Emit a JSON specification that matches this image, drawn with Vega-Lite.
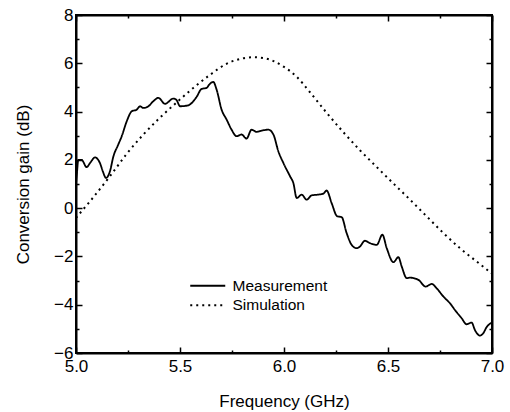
{
  "$schema": "https://vega.github.io/schema/vega-lite/v6.json",
  "width": 416,
  "height": 338,
  "autosize": "none",
  "padding": {"left": 76, "top": 15, "right": 18, "bottom": 59},
  "background": "white",
  "config": {
    "font": "Liberation Sans",
    "view": {"stroke": "black", "strokeWidth": 2},
    "axis": {
      "grid": false,
      "domainColor": "black",
      "domainWidth": 2,
      "tickColor": "black",
      "tickWidth": 1.5,
      "labelColor": "black",
      "labelFont": "Liberation Sans",
      "labelFontSize": 17,
      "titleFont": "Liberation Sans",
      "titleFontSize": 17,
      "titleFontWeight": "normal",
      "titleColor": "black"
    },
    "legend": {
      "labelFont": "Liberation Sans",
      "labelFontSize": 15.5,
      "labelColor": "black"
    }
  },
  "layer": [
    {
      "data": {"values": [
        {"f": 5.0, "g": 1.0, "series": "Measurement"},
        {"f": 5.005, "g": 1.5, "series": "Measurement"},
        {"f": 5.011, "g": 2.0, "series": "Measurement"},
        {"f": 5.027, "g": 2.0, "series": "Measurement"},
        {"f": 5.051, "g": 1.7, "series": "Measurement"},
        {"f": 5.07, "g": 1.9, "series": "Measurement"},
        {"f": 5.091, "g": 2.1, "series": "Measurement"},
        {"f": 5.115, "g": 1.87, "series": "Measurement"},
        {"f": 5.13, "g": 1.5, "series": "Measurement"},
        {"f": 5.144, "g": 1.25, "series": "Measurement"},
        {"f": 5.163, "g": 1.52, "series": "Measurement"},
        {"f": 5.18, "g": 2.15, "series": "Measurement"},
        {"f": 5.203, "g": 2.63, "series": "Measurement"},
        {"f": 5.22, "g": 2.98, "series": "Measurement"},
        {"f": 5.244, "g": 3.6, "series": "Measurement"},
        {"f": 5.268, "g": 4.01, "series": "Measurement"},
        {"f": 5.292, "g": 4.08, "series": "Measurement"},
        {"f": 5.308, "g": 4.22, "series": "Measurement"},
        {"f": 5.324, "g": 4.15, "series": "Measurement"},
        {"f": 5.348, "g": 4.22, "series": "Measurement"},
        {"f": 5.372, "g": 4.43, "series": "Measurement"},
        {"f": 5.396, "g": 4.57, "series": "Measurement"},
        {"f": 5.428, "g": 4.32, "series": "Measurement"},
        {"f": 5.468, "g": 4.54, "series": "Measurement"},
        {"f": 5.484, "g": 4.47, "series": "Measurement"},
        {"f": 5.5, "g": 4.22, "series": "Measurement"},
        {"f": 5.54, "g": 4.26, "series": "Measurement"},
        {"f": 5.564, "g": 4.43, "series": "Measurement"},
        {"f": 5.58, "g": 4.61, "series": "Measurement"},
        {"f": 5.604, "g": 4.94, "series": "Measurement"},
        {"f": 5.628, "g": 4.98, "series": "Measurement"},
        {"f": 5.641, "g": 5.12, "series": "Measurement"},
        {"f": 5.66, "g": 5.23, "series": "Measurement"},
        {"f": 5.676, "g": 4.91, "series": "Measurement"},
        {"f": 5.7, "g": 4.08, "series": "Measurement"},
        {"f": 5.724, "g": 3.67, "series": "Measurement"},
        {"f": 5.748, "g": 3.25, "series": "Measurement"},
        {"f": 5.772, "g": 2.98, "series": "Measurement"},
        {"f": 5.796, "g": 3.05, "series": "Measurement"},
        {"f": 5.82, "g": 2.88, "series": "Measurement"},
        {"f": 5.844, "g": 3.25, "series": "Measurement"},
        {"f": 5.868, "g": 3.16, "series": "Measurement"},
        {"f": 5.893, "g": 3.21, "series": "Measurement"},
        {"f": 5.925, "g": 3.25, "series": "Measurement"},
        {"f": 5.949, "g": 3.05, "series": "Measurement"},
        {"f": 5.973, "g": 2.35, "series": "Measurement"},
        {"f": 5.997, "g": 1.87, "series": "Measurement"},
        {"f": 6.029, "g": 1.32, "series": "Measurement"},
        {"f": 6.045, "g": 1.04, "series": "Measurement"},
        {"f": 6.061, "g": 0.42, "series": "Measurement"},
        {"f": 6.085, "g": 0.56, "series": "Measurement"},
        {"f": 6.109, "g": 0.35, "series": "Measurement"},
        {"f": 6.133, "g": 0.53, "series": "Measurement"},
        {"f": 6.165, "g": 0.56, "series": "Measurement"},
        {"f": 6.189, "g": 0.6, "series": "Measurement"},
        {"f": 6.205, "g": 0.73, "series": "Measurement"},
        {"f": 6.229, "g": 0.21, "series": "Measurement"},
        {"f": 6.256, "g": -0.34, "series": "Measurement"},
        {"f": 6.277, "g": -0.37, "series": "Measurement"},
        {"f": 6.301, "g": -1.03, "series": "Measurement"},
        {"f": 6.325, "g": -1.52, "series": "Measurement"},
        {"f": 6.349, "g": -1.66, "series": "Measurement"},
        {"f": 6.365, "g": -1.59, "series": "Measurement"},
        {"f": 6.389, "g": -1.35, "series": "Measurement"},
        {"f": 6.413, "g": -1.45, "series": "Measurement"},
        {"f": 6.446, "g": -1.52, "series": "Measurement"},
        {"f": 6.473, "g": -1.1, "series": "Measurement"},
        {"f": 6.494, "g": -1.66, "series": "Measurement"},
        {"f": 6.526, "g": -2.24, "series": "Measurement"},
        {"f": 6.55, "g": -2.03, "series": "Measurement"},
        {"f": 6.566, "g": -2.42, "series": "Measurement"},
        {"f": 6.59, "g": -2.9, "series": "Measurement"},
        {"f": 6.606, "g": -2.88, "series": "Measurement"},
        {"f": 6.646, "g": -2.97, "series": "Measurement"},
        {"f": 6.681, "g": -3.25, "series": "Measurement"},
        {"f": 6.71, "g": -3.14, "series": "Measurement"},
        {"f": 6.734, "g": -3.32, "series": "Measurement"},
        {"f": 6.766, "g": -3.66, "series": "Measurement"},
        {"f": 6.798, "g": -3.94, "series": "Measurement"},
        {"f": 6.822, "g": -4.22, "series": "Measurement"},
        {"f": 6.854, "g": -4.56, "series": "Measurement"},
        {"f": 6.878, "g": -4.81, "series": "Measurement"},
        {"f": 6.902, "g": -4.74, "series": "Measurement"},
        {"f": 6.918, "g": -5.05, "series": "Measurement"},
        {"f": 6.942, "g": -5.28, "series": "Measurement"},
        {"f": 6.958, "g": -5.18, "series": "Measurement"},
        {"f": 6.974, "g": -4.93, "series": "Measurement"},
        {"f": 7.0, "g": -4.74, "series": "Measurement"}
      ]},
      "mark": {"type": "line", "color": "black", "strokeWidth": 1.8, "interpolate": "monotone", "clip": true},
      "encoding": {
        "x": {
          "field": "f", "type": "quantitative",
          "scale": {"domain": [5, 7], "nice": false, "zero": false},
          "axis": {
            "orient": "bottom",
            "title": "Frequency (GHz)",
            "titlePadding": 16,
            "values": [5, 5.25, 5.5, 5.75, 6, 6.25, 6.5, 6.75, 7],
            "labelExpr": "datum.value*2 == round(datum.value*2) ? format(datum.value, '.1f') : ''",
            "tickSize": {"condition": {"test": "datum.value*2 == round(datum.value*2)", "value": -6}, "value": -3},
            "labelPadding": 11,
            "labelFlush": false,
            "labelOverlap": false
          }
        },
        "y": {
          "field": "g", "type": "quantitative",
          "scale": {"domain": [-6, 8], "nice": false, "zero": false},
          "axis": {
            "orient": "left",
            "title": "Conversion gain (dB)",
            "titlePadding": 21,
            "values": [-6, -5, -4, -3, -2, -1, 0, 1, 2, 3, 4, 5, 6, 7, 8],
            "labelExpr": "datum.value % 2 == 0 ? format(datum.value, 'd') : ''",
            "tickSize": {"condition": {"test": "datum.value % 2 == 0", "value": -6}, "value": -3},
            "labelPadding": 9,
            "labelFlush": false,
            "labelOverlap": false
          }
        },
        "strokeDash": {
          "field": "series", "type": "nominal",
          "scale": {"domain": ["Measurement", "Simulation"], "range": [[1, 0], [2, 4]]},
          "legend": {
            "orient": "none",
            "legendX": 124,
            "legendY": 263,
            "title": null,
            "symbolType": "M-4,0H4",
            "symbolStrokeColor": "black",
            "symbolStrokeWidth": 1.8,
            "symbolSize": 76.6,
            "labelOffset": 17,
            "rowPadding": 2.5,
            "padding": 0
          }
        }
      }
    },
    {
      "data": {"values": [
        {"f": 5.0, "g": -0.4, "series": "Simulation"},
        {"f": 5.067, "g": 0.28, "series": "Simulation"},
        {"f": 5.163, "g": 1.32, "series": "Simulation"},
        {"f": 5.244, "g": 2.25, "series": "Simulation"},
        {"f": 5.324, "g": 3.05, "series": "Simulation"},
        {"f": 5.404, "g": 3.75, "series": "Simulation"},
        {"f": 5.484, "g": 4.38, "series": "Simulation"},
        {"f": 5.564, "g": 4.98, "series": "Simulation"},
        {"f": 5.644, "g": 5.52, "series": "Simulation"},
        {"f": 5.724, "g": 5.98, "series": "Simulation"},
        {"f": 5.8, "g": 6.2, "series": "Simulation"},
        {"f": 5.85, "g": 6.25, "series": "Simulation"},
        {"f": 5.9, "g": 6.22, "series": "Simulation"},
        {"f": 6.0, "g": 5.85, "series": "Simulation"},
        {"f": 6.06, "g": 5.45, "series": "Simulation"},
        {"f": 6.125, "g": 4.8, "series": "Simulation"},
        {"f": 6.205, "g": 3.95, "series": "Simulation"},
        {"f": 6.285, "g": 3.15, "series": "Simulation"},
        {"f": 6.365, "g": 2.4, "series": "Simulation"},
        {"f": 6.446, "g": 1.7, "series": "Simulation"},
        {"f": 6.526, "g": 1.02, "series": "Simulation"},
        {"f": 6.606, "g": 0.35, "series": "Simulation"},
        {"f": 6.686, "g": -0.34, "series": "Simulation"},
        {"f": 6.766, "g": -1.03, "series": "Simulation"},
        {"f": 6.846, "g": -1.66, "series": "Simulation"},
        {"f": 6.926, "g": -2.21, "series": "Simulation"},
        {"f": 7.0, "g": -2.72, "series": "Simulation"}
      ]},
      "mark": {"type": "line", "color": "black", "strokeWidth": 2, "interpolate": "monotone", "clip": true},
      "encoding": {
        "x": {
          "field": "f", "type": "quantitative",
          "axis": {
            "orient": "top",
            "title": null,
            "values": [5, 5.25, 5.5, 5.75, 6, 6.25, 6.5, 6.75, 7],
            "labels": false,
            "tickSize": {"condition": {"test": "datum.value*2 == round(datum.value*2)", "value": -6}, "value": -3}
          }
        },
        "y": {
          "field": "g", "type": "quantitative",
          "axis": {
            "orient": "right",
            "title": null,
            "values": [-6, -5, -4, -3, -2, -1, 0, 1, 2, 3, 4, 5, 6, 7, 8],
            "labels": false,
            "tickSize": {"condition": {"test": "datum.value % 2 == 0", "value": -6}, "value": -3}
          }
        },
        "strokeDash": {"field": "series", "type": "nominal"}
      }
    }
  ],
  "resolve": {"axis": {"x": "independent", "y": "independent"}}
}
